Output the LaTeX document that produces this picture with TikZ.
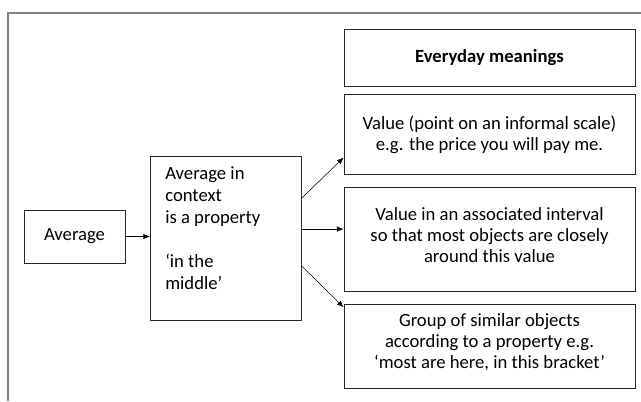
\documentclass[tikz,border=0pt]{standalone}
\usepackage{fontspec}
\setmainfont{Carlito}
\usetikzlibrary{arrows.meta}

\begin{document}
\begin{tikzpicture}[x=0.75pt,y=-0.75pt,
    box/.style={draw=black!85,line width=0.6pt,inner sep=0pt,align=center,
        font=\fontsize{14}{15.75}\selectfont},
    >={Latex[length=5pt,width=4pt]}]
\useasboundingbox (0,0) rectangle (641,401);
% frame
\draw [black!50,line width=0.8pt] (8,401) -- (8,13) -- (641,13);
\path
    (74.5,236.5) node [box,minimum width=75.75pt,minimum height=39.75pt] (avg) {Average}
    (150,156) node [box,anchor=north west,minimum width=113.25pt,minimum height=123pt] (ctx) {}
    (ctx.north west) +(15,10) node [anchor=north west,inner sep=0pt,align=left,
        font=\fontsize{14}{16.5}\selectfont] (ctxtext)
        {Average in\\context\\is a property\\[16.5pt]‘in the\\middle’};
\path
    (489.5,29) node [box,below,minimum width=218.25pt,minimum height=42.75pt] (head)
        {\textbf{Everyday meanings}}
    +(0,65) node [box,below,minimum width=218.25pt,minimum height=60pt] (val)
        {Value (point on an informal scale)\\e.g. the price you will pay me.}
    +(0,158) node [box,below,minimum width=218.25pt,minimum height=78pt,text depth=7pt] (intv)
        {Value in an associated interval\\so that most objects are closely\\around this value}
    +(0,275) node [box,below,minimum width=218.25pt,minimum height=63pt,text depth=8pt] (grp)
        {Group of similar objects\\according to a property e.g.\\‘most are here, in this bracket’};
\draw (avg.east) [->] -- (avg.east -| ctx.west);
\draw (ctx.28) [->] -- (val.189);
\draw (ctx.7) [->] -- (ctx.7 -| intv.west);
\draw (ctx.-20) [->] -- (grp.165);
\end{tikzpicture}
\end{document}
